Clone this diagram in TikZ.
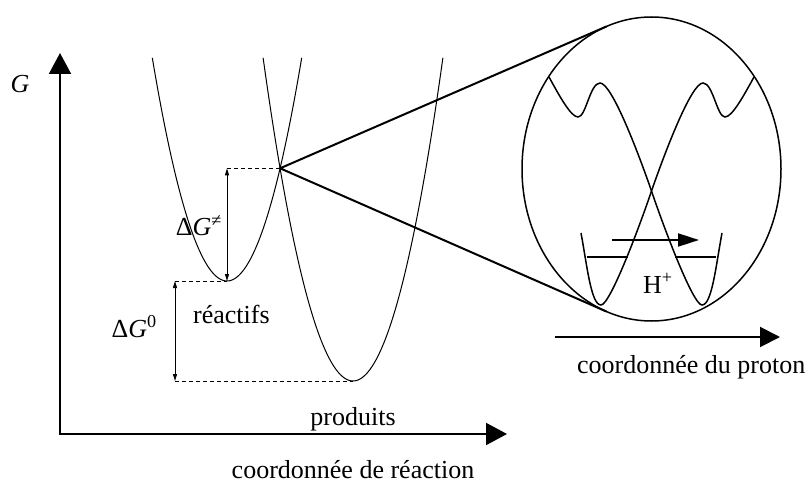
\documentclass[tikz,border=0pt]{standalone}
\usepackage{fontspec}
\setmainfont{Liberation Serif}
\usetikzlibrary{arrows.meta}
\begin{document}
\begin{tikzpicture}[x=1pt,y=-1pt,
  lbl/.style={font=\fontsize{26}{30}\selectfont, inner sep=0pt},
  axisln/.style={line width=2pt, line join=miter},
  bigtip/.style={-{Triangle[length=21pt,width=22pt]}},
  curve/.style={line width=1pt},
  dashln/.style={line width=0.9pt, dash pattern=on 4pt off 3pt},
  dimln/.style={line width=1pt, {Triangle[length=7pt,width=4pt]}-{Triangle[length=7pt,width=4pt]}},
  zoomln/.style={line width=2pt},
  innerln/.style={line width=1.5pt},
]
\useasboundingbox (0,0) rectangle (812,484);

% axes
\coordinate (O) at (60,434);
\coordinate (Ytip) at (60,53);
\coordinate (Xtip) at (507,434);
\draw[axisln, {Triangle[length=21pt,width=22pt]}-{Triangle[length=21pt,width=22pt]}] (Ytip) -- (O) -- (Xtip);

% parabolas
\draw[curve] plot[domain=152.3:301.7, samples=90] (\x, {281-0.04*(\x-227)^2});
\draw[curve] plot[domain=263.1:442.9, samples=90] (\x, {381-0.04*(\x-353)^2});

\coordinate (X) at (280.1,168.3);
\coordinate (R) at (227,281);
\coordinate (P) at (353,381);
\coordinate (a0) at (175,281);
\coordinate (a1) at (175,381);
\coordinate (Rtop) at (227,168.3);

\draw[dashln] (Rtop) -- (X);
\draw[dashln] (a0) -- (R);
\draw[dashln] (a1) -- (P);
\draw[dimln] (Rtop) -- (R);
\draw[dimln] (a0) -- (a1);

% magnifier
\coordinate (C) at (651.5,169);
\draw[line width=1.5pt] (C) ellipse [x radius=129.5, y radius=152];
\coordinate (T1) at (606.4,26.5);
\coordinate (T2) at (606.4,311.5);
\draw[zoomln, line join=miter] (T1) -- (X) -- (T2);

% proton curves
\draw[innerln] (549,77) .. controls (560,97) and (571,117) .. (578,117)
  .. controls (586,117) and (590,83) .. (600,83)
  .. controls (612,83) and (639,155) .. (651.5,191)
  .. controls (664,228) and (693,305) .. (702,305)
  .. controls (712,305) and (716,265) .. (722,233);
\draw[innerln] (754,77) .. controls (743,97) and (732,117) .. (725,117)
  .. controls (717,117) and (713,83) .. (703,83)
  .. controls (691,83) and (664,155) .. (651.5,191)
  .. controls (639,228) and (610,305) .. (601,305)
  .. controls (591,305) and (587,265) .. (581,233);

\coordinate (L1) at (587,257);
\coordinate (L2) at (628,257);
\coordinate (L3) at (675,257);
\coordinate (L4) at (716,257);
\draw[innerln] (L1) -- (L2);
\draw[innerln] (L3) -- (L4);
\coordinate (A1) at (612,240);
\coordinate (A2) at (699,240);
\draw[line width=2pt, -{Triangle[length=21pt,width=13pt]}] (A1) -- (A2);
\node[lbl, anchor=base west] (hp) at (643,293) {H\textsuperscript{+}};

% proton axis
\coordinate (B1) at (555,337);
\coordinate (B2) at (780,337);
\draw[line width=2pt, -{Triangle[length=20pt,width=20pt]}] (B1) -- (B2);
\node[lbl, anchor=base west] (cp) at (577,373) {coordonnée du proton};

% labels
\node[lbl, anchor=base] (g) at (20,93) {\textit{G}};
\node[lbl, anchor=base east] (dgs) at (222,236) {Δ\textit{G}\textsuperscript{≠}};
\node[lbl, anchor=base east] (dg0) at (157,337) {Δ\textit{G}\textsuperscript{0}};
\node[lbl, anchor=base west] (rea) at (193,323) {réactifs};
\node[lbl, anchor=base] (pro) at (353,425) {produits};
\node[lbl, anchor=base] (cr) at (353,478) {coordonnée de réaction};
\end{tikzpicture}
\end{document}
